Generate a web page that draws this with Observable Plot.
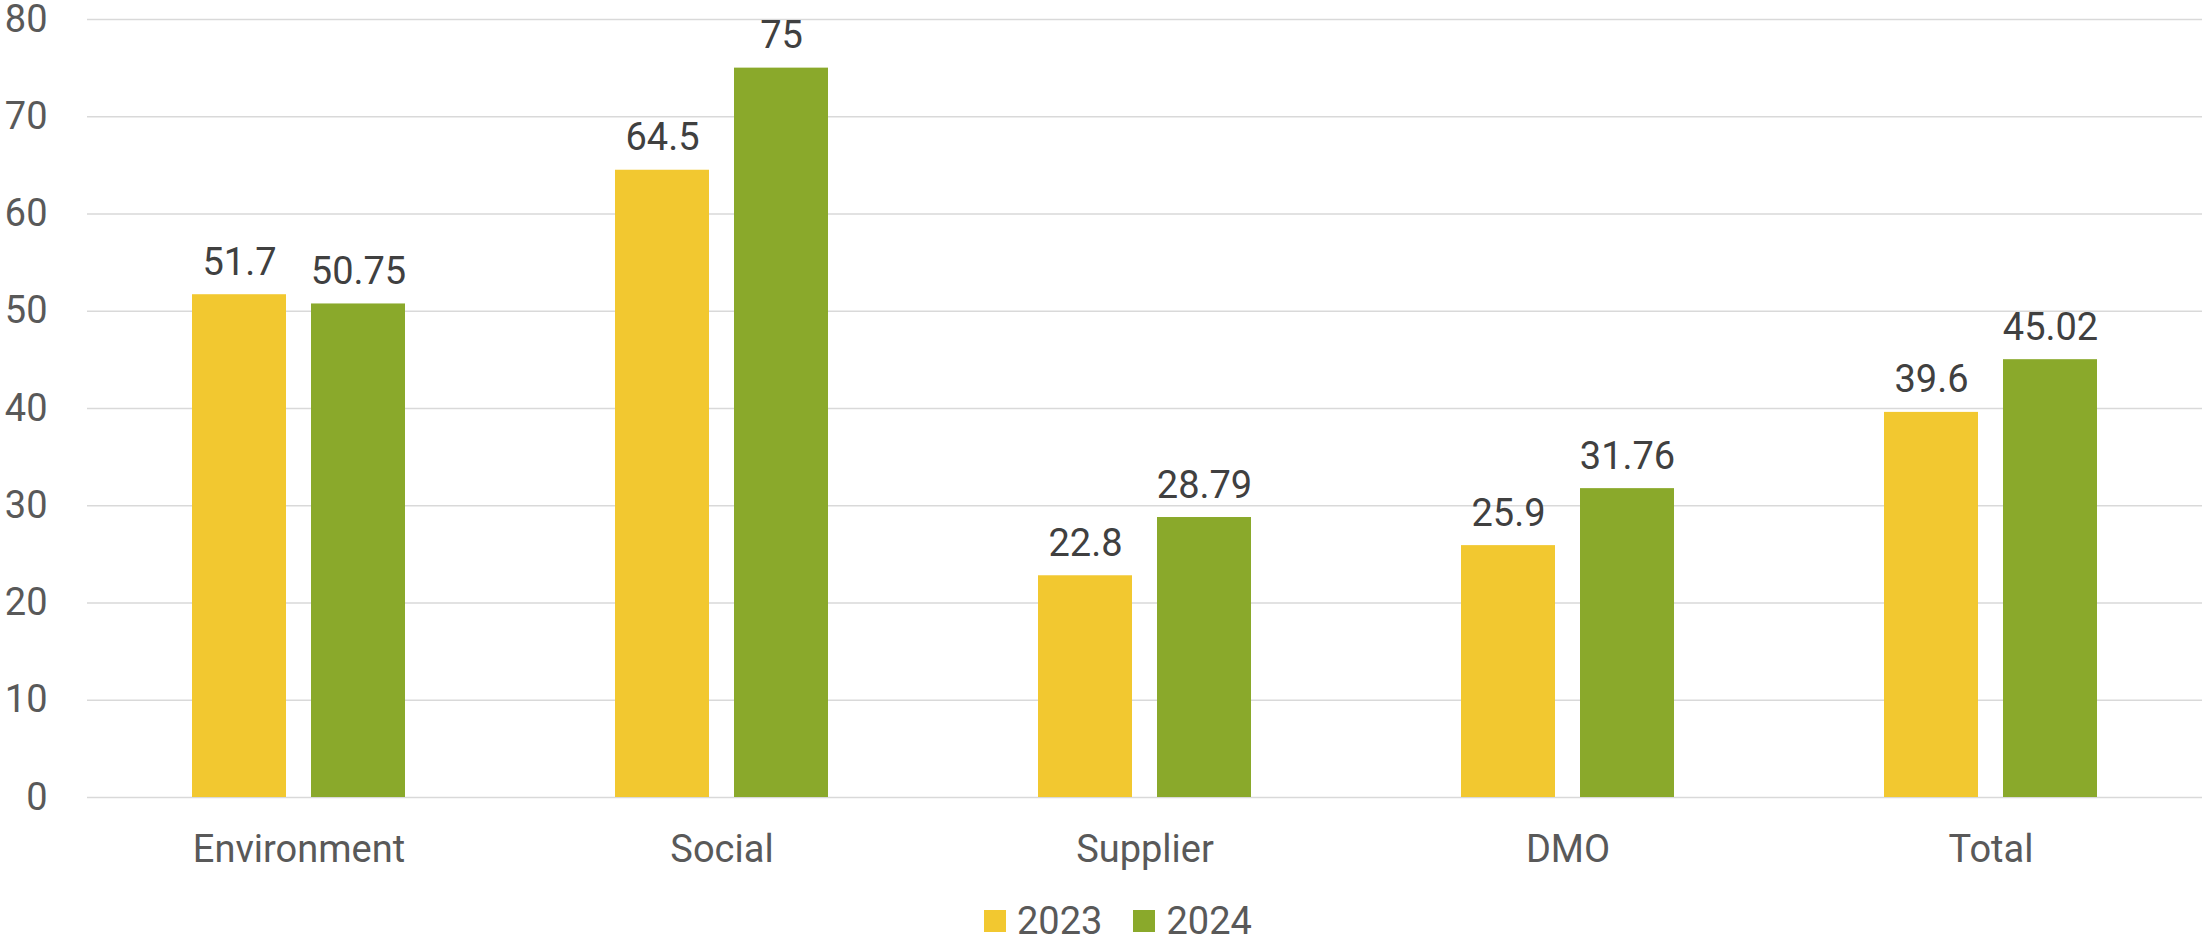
<!DOCTYPE html>
<html>
<head>
<meta charset="utf-8">
<script src="https://cdn.jsdelivr.net/npm/d3@7"></script>
<script src="https://cdn.jsdelivr.net/npm/@observablehq/plot@0.6"></script>
<style>
  html, body { margin: 0; padding: 0; background: #fff; }
  #wrap { position: relative; width: 2203px; height: 940px; font-family: Roboto, "Liberation Sans", sans-serif; }
  #legend { position: absolute; left: 984px; top: 902px; display: flex; align-items: center; font-size: 38px; color: #595959; line-height: 38px; }
  .item { display: flex; align-items: center; margin-right: 31px; }
  .sw { width: 22px; height: 22px; margin-right: 11px; }
</style>
</head>
<body>
<div id="wrap"><div id="chart"></div><div id="legend"></div></div>
<script>
const categories = ["Environment", "Social", "Supplier", "DMO", "Total"];
const years = ["2023", "2024"];
const values2023 = [51.7, 64.5, 22.8, 25.9, 39.6];
const values2024 = [50.75, 75, 28.79, 31.76, 45.02];
const labels2023 = ["51.7", "64.5", "22.8", "25.9", "39.6"];
const labels2024 = ["50.75", "75", "28.79", "31.76", "45.02"];
const yTicks = [0, 10, 20, 30, 40, 50, 60, 70, 80];
const colors = ["#F2C830", "#8AA92B"];

const data = [];
categories.forEach((c, i) => {
  data.push({category: c, year: years[0], value: values2023[i], label: labels2023[i]});
  data.push({category: c, year: years[1], value: values2024[i], label: labels2024[i]});
});

const chart = Plot.plot({
  width: 2203,
  height: 900,
  marginLeft: 86,
  marginRight: 0,
  marginTop: 19,
  marginBottom: 103,
  style: {fontFamily: "Roboto, 'Liberation Sans', sans-serif", fontSize: "38px", color: "#595959", background: "#fff"},
  fx: {domain: categories, padding: 0, label: null, axis: "bottom", tickSize: 0, tickPadding: 38},
  x: {domain: years, paddingInner: 0.208, paddingOuter: 0.868, axis: null},
  y: {domain: [0, 80], ticks: yTicks, tickSize: 0, tickPadding: 40, label: null, grid: false},
  color: {domain: years, range: colors},
  marks: [
    Plot.ruleY(yTicks, {stroke: "#d9d9d9", strokeWidth: 1.5}),
    Plot.barY(data, {fx: "category", x: "year", y: "value", fill: "year"}),
    Plot.text(data, {fx: "category", x: "year", y: "value", text: "label", lineAnchor: "bottom", dy: -20, fill: "#404040", fontSize: 38})
  ]
});
document.getElementById("chart").appendChild(chart);

const legend = document.getElementById("legend");
years.forEach((y, i) => {
  const it = document.createElement("div");
  it.className = "item";
  const sw = document.createElement("div");
  sw.className = "sw";
  sw.style.background = colors[i];
  const t = document.createElement("span");
  t.textContent = y;
  it.appendChild(sw); it.appendChild(t);
  legend.appendChild(it);
});
</script>
</body>
</html>
